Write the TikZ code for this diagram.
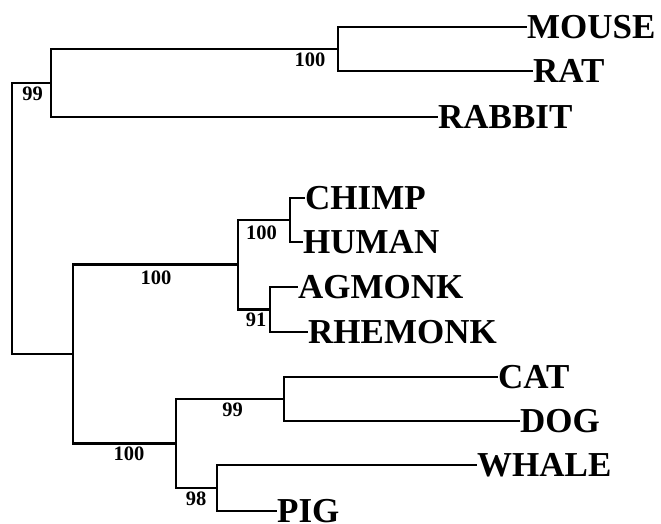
\documentclass[tikz,border=0pt]{standalone}
\usepackage{fontspec}
\setmainfont{Liberation Serif}
\begin{document}
\begin{tikzpicture}[x=1pt,y=-1pt]
\tikzset{
  branch/.style={line width=2.1pt},
  taxon/.style={font=\bfseries\fontsize{35}{35}\selectfont, anchor=west,
    inner sep=0pt, text height=23.2pt, text depth=0pt},
  support/.style={font=\bfseries\fontsize{20.5}{20.5}\selectfont, inner sep=0pt}
}
\useasboundingbox (0,0) rectangle (661,524);

% internal nodes of the tree
\coordinate (root)   at (12,217.5);
\coordinate (glires) at (51,83);
\coordinate (murid)  at (338,49);
\coordinate (rest)   at (73,354);
\coordinate (prim)   at (238,264.5);
\coordinate (hom)    at (290,220);
\coordinate (cerc)   at (270,309.5);
\coordinate (laur)   at (176,443.5);
\coordinate (carn)   at (284,399);
\coordinate (cet)    at (217,488);

% taxa
\node[taxon] (mouse)   at (527,27)  {MOUSE};
\node[taxon] (rat)     at (533,71)  {RAT};
\node[taxon] (rabbit)  at (438,117) {RABBIT};
\node[taxon] (chimp)   at (305,198) {CHIMP};
\node[taxon] (human)   at (303,242) {HUMAN};
\node[taxon] (agmonk)  at (298,287) {AGMONK};
\node[taxon] (rhemonk) at (308,332) {RHEMONK};
\node[taxon] (cat)     at (498,377) {CAT};
\node[taxon] (dog)     at (520,421) {DOG};
\node[taxon] (whale)   at (477,465) {WHALE};
\node[taxon] (pig)     at (277,511) {PIG};

% branches
\draw[branch] (root) |- (glires);
\draw[branch] (root) |- (rest);
\draw[branch] (glires) |- (murid);
\draw[branch] (glires) |- (rabbit.west);
\draw[branch] (murid) |- (mouse.west);
\draw[branch] (murid) |- (rat.west);
\draw[branch] (rest) |- (prim);
\draw[branch] (rest) |- (laur);
\draw[branch] (prim) |- (hom);
\draw[branch] (prim) |- (cerc);
\draw[branch] (hom) |- (chimp.west);
\draw[branch] (hom) |- (human.west);
\draw[branch] (cerc) |- (agmonk.west);
\draw[branch] (cerc) |- (rhemonk.west);
\draw[branch] (laur) |- (carn);
\draw[branch] (laur) |- (cet);
\draw[branch] (carn) |- (cat.west);
\draw[branch] (carn) |- (dog.west);
\draw[branch] (cet) |- (whale.west);
\draw[branch] (cet) |- (pig.west);

% bootstrap support values
\node[support] (bsGlires) at (32.5,94)  {99};
\node[support] (bsMurid)  at (310,60)   {100};
\node[support] (bsPrim)   at (156,278)  {100};
\node[support] (bsHom)    at (261.5,233) {100};
\node[support] (bsCerc)   at (256,320)  {91};
\node[support] (bsLaur)   at (129,453.5) {100};
\node[support] (bsCarn)   at (232.5,410) {99};
\node[support] (bsCet)    at (196,498.5) {98};
\end{tikzpicture}
\end{document}
